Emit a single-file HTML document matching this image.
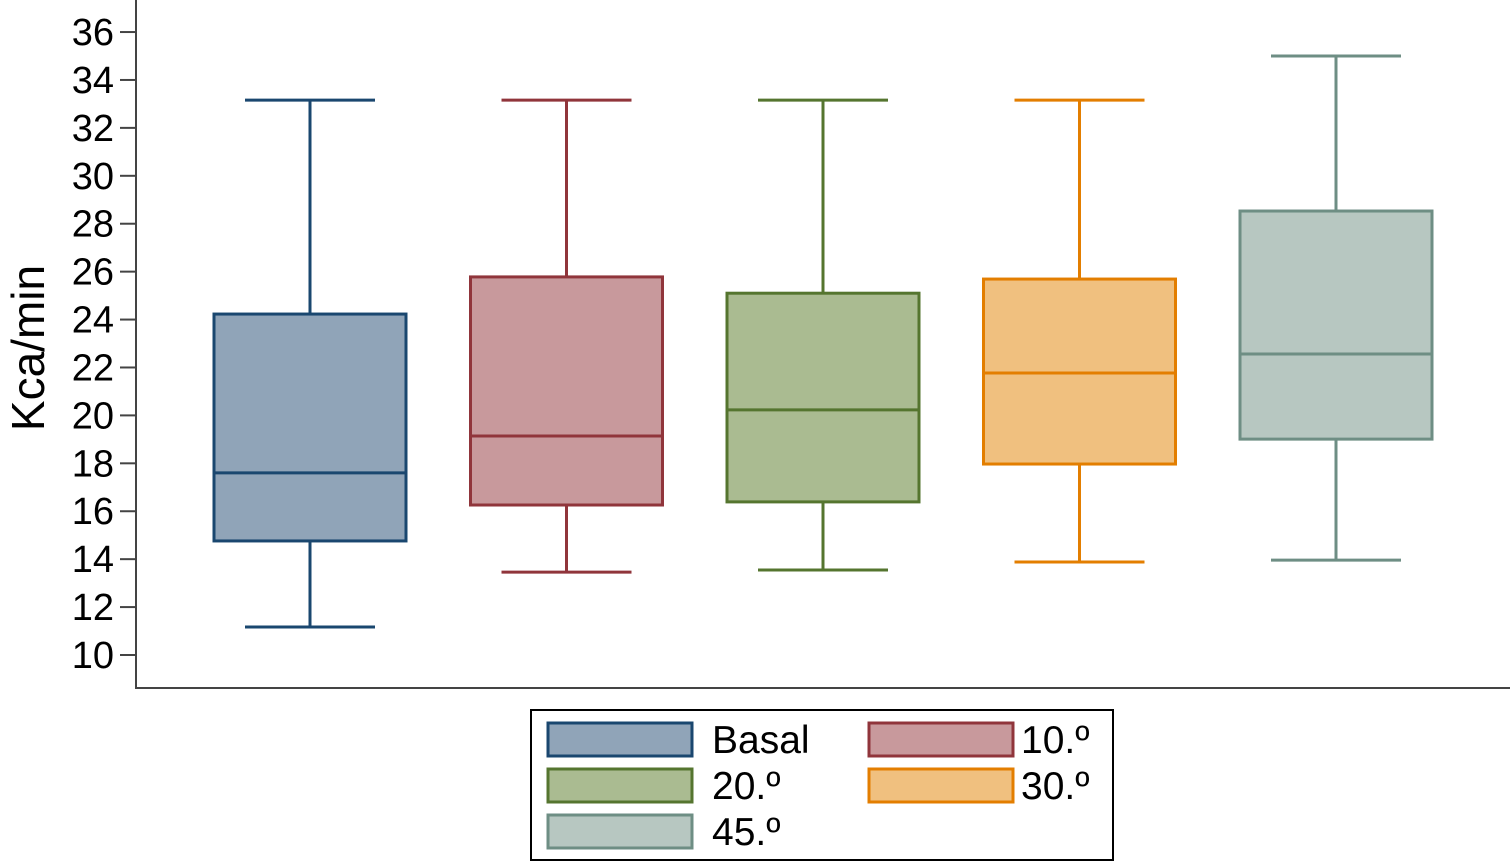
<!DOCTYPE html>
<html><head><meta charset="utf-8"><style>
body{margin:0;background:#fff;}
svg{display:block;font-family:"Liberation Sans",Arial,sans-serif;}
</style></head><body>
<svg id="chart" width="1510" height="863">
<line x1="136" y1="0" x2="136" y2="689" stroke="#444" stroke-width="2"/>
<line x1="135" y1="688" x2="1510" y2="688" stroke="#444" stroke-width="2"/>
<g id="yticks"></g>
<text transform="translate(44,348) rotate(-90)" text-anchor="middle" font-size="46" fill="#000">Kca/min</text>
<g id="boxes"></g>
<rect x="531" y="710" width="582" height="150" fill="#fff" stroke="#000" stroke-width="2"/>
<g id="legend"></g>
</svg>
<script>
const categories=["Basal","10.º","20.º","30.º","45.º"];
const mins=[11.17,13.46,13.55,13.88,13.96];
const q1s=[14.76,16.26,16.39,17.97,19.01];
const medians=[17.6,19.14,20.23,21.77,22.56];
const q3s=[24.23,25.78,25.1,25.69,28.53];
const maxs=[33.16,33.16,33.16,33.16,35.0];
const yTicks=[10,12,14,16,18,20,22,24,26,28,30,32,34,36];
const strokes=["#1a476f","#90353b","#55752f","#e37e00","#6e8e84"];
const fills=["#90a4b8","#c8999c","#aabb91","#f0c07f","#b7c7c1"];
const NS="http://www.w3.org/2000/svg";
function y(v){return 655-(v-10)*23.96;}
function x(i){return 310+i*256.5;}
function mk(tag,attrs,parent){const e=document.createElementNS(NS,tag);for(const k in attrs)e.setAttribute(k,attrs[k]);parent.appendChild(e);return e;}
const yt=document.getElementById('yticks');
yTicks.forEach(t=>{
 const l=mk('line',{x1:120,x2:136,y1:y(t),y2:y(t),stroke:'#444','stroke-width':2},yt);
 
 
 const tx=mk('text',{x:114,y:y(t)+13,'text-anchor':'end','font-size':38,fill:'#000'},yt);
 tx.textContent=t;
 
 
});
const bg=document.getElementById('boxes');
categories.forEach((c,i)=>{
 const cx=x(i),s=strokes[i];
 const g=mk('g',{},bg);
 
 
 mk('line',{x1:cx,x2:cx,y1:y(maxs[i]),y2:y(q3s[i]),stroke:s,'stroke-width':3},g);
 mk('line',{x1:cx,x2:cx,y1:y(q1s[i]),y2:y(mins[i]),stroke:s,'stroke-width':3},g);
 mk('line',{x1:cx-65,x2:cx+65,y1:y(maxs[i]),y2:y(maxs[i]),stroke:s,'stroke-width':3},g);
 mk('line',{x1:cx-65,x2:cx+65,y1:y(mins[i]),y2:y(mins[i]),stroke:s,'stroke-width':3},g);
 mk('rect',{x:cx-96,y:y(q3s[i]),width:192,height:y(q1s[i])-y(q3s[i]),fill:fills[i],stroke:s,'stroke-width':3},g);
 mk('line',{x1:cx-96,x2:cx+96,y1:y(medians[i]),y2:y(medians[i]),stroke:s,'stroke-width':3},g);
});
const lg=document.getElementById('legend');
categories.forEach((c,i)=>{
 const col=i%2,row=Math.floor(i/2);
 const sx=548+col*321,sy=723+row*46;
 const r=mk('rect',{x:sx,y:sy,width:144,height:33,fill:fills[i],stroke:strokes[i],'stroke-width':3},lg);
 
 
 const t=mk('text',{x:sx+(col?152:164),y:sy+30,'font-size':39,fill:'#000'},lg);
 t.textContent=c;
 
 
});
</script>
</body></html>
